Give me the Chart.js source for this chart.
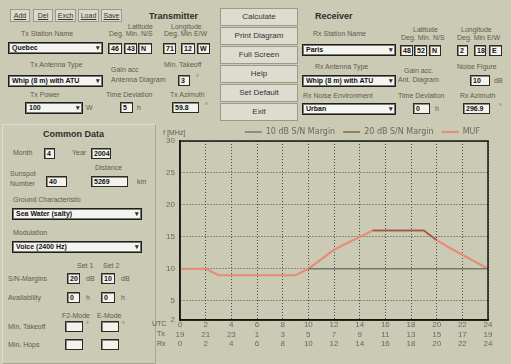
<!DOCTYPE html>
<html>
<head>
<meta charset="utf-8">
<script src="https://cdn.jsdelivr.net/npm/chart.js@4"></script>
<style>
body{margin:0;width:511px;height:364px;background:#cbcab4;font-family:"Liberation Sans",Arial,sans-serif;font-size:7px;color:#5e5d4c;overflow:hidden;position:relative}
.l{position:absolute;white-space:nowrap;line-height:8px}
.h{font-weight:bold;color:#2e2e28;font-size:9px;line-height:10px}
.in{position:absolute;background:#f3f3ec;border:1px solid #2a2a26;box-shadow:inset 1px 1px #8a8a80;font-size:7px;font-weight:bold;color:#111;padding-left:2px;box-sizing:border-box;line-height:9px;overflow:hidden}
.sel{position:absolute;background:#f5f5ef;border:1px solid #1e1e1a;box-shadow:inset 0 0 0 1px #777;font-size:7px;font-weight:bold;color:#111;padding-left:3px;box-sizing:border-box;line-height:9px}
.sel:after{content:"\25BE";position:absolute;right:2px;top:0;font-size:7px;color:#333}
.btn{position:absolute;background:#dedccf;border:1px solid #9a998a;box-sizing:border-box;text-align:center;color:#333;font-size:8px}
.sm{position:absolute;background:#dcdacc;border:1px solid #9a998a;box-sizing:border-box;text-align:center;color:#333;font-size:7px;text-decoration:underline;line-height:11px}
#panel{position:absolute;left:2px;top:124px;width:152px;height:238px;border:1px solid #e0dfcf;border-right-color:#a8a795;border-bottom-color:#a8a795}
#chartBox{position:absolute;left:158px;top:120px;width:353px;height:244px}
</style>
</head>
<body>
<div id="panel"></div>
<div id="ui"></div>
<div id="chartBox"><canvas id="prop"></canvas></div>
<script>
// hours of the day (UTC) and the three curves, MHz
const hours = [0, 1, 2, 3, 4, 5, 6, 7, 8, 9, 10, 11, 12, 13, 14, 15, 16, 17, 18, 19, 20, 21, 22, 23, 24];
const muf = [10, 10, 10, 9, 9, 9, 9, 9, 9, 9, 10, 11.5, 13, 14, 15, 16, 16, 16, 16, 16, 14.5, 13.3, 12.2, 11.1, 10];
const snr10 = [null, null, null, null, null, null, null, null, null, null, 10, 10, 10, 10, 10, 10, 10, 10, 10, 10, 10, 10, 10, 10, 10];
const snr20 = [null, null, null, null, null, null, null, null, null, null, null, null, null, null, null, 16, 16, 16, 16, 16, 14.5, null, null, null, null];

// tick rows under the x axis
const utcTicks = [0, 2, 4, 6, 8, 10, 12, 14, 16, 18, 20, 22, 24];
const txTicks = [19, 21, 23, 1, 3, 5, 7, 9, 11, 13, 15, 17, 19];
const rxTicks = [0, 2, 4, 6, 8, 10, 12, 14, 16, 18, 20, 22, 24];
const yTicks = [2, 5, 10, 15, 20, 25, 30];

// ---- the form around the chart ----
const ui = document.getElementById('ui');
function put(cls, text, x, y, w, h) {
  const d = document.createElement('div');
  d.className = cls;
  d.textContent = text;
  d.style.left = x + 'px';
  d.style.top = y + 'px';
  if (w) d.style.width = w + 'px';
  if (h) { d.style.height = h + 'px'; d.style.lineHeight = (h - 2) + 'px'; }
  ui.appendChild(d);
}

[['Add', 10, 20], ['Del', 33, 20], ['Exch', 55, 21], ['Load', 78, 21], ['Save', 101, 21]]
  .forEach(b => put('sm', b[0], b[1], 9, b[2], 13));
['Calculate', 'Print Diagram', 'Full Screen', 'Help', 'Set Default', 'Exit']
  .forEach((t, i) => put('btn', t, 220, 8 + i * 19, 78, 18));

put('l h', 'Transmitter', 149, 11);
put('l h', 'Receiver', 315, 11);
put('l h', 'Common Data', 43, 129);

const labels = [
  ['Latitude', 128, 23], ['Longitude', 171, 23], ['Deg. Min. N/S', 109, 30], ['Deg. Min E/W', 164, 30],
  ['Tx Station Name', 21, 30], ['Tx Antenna Type', 30, 61], ['Gain acc', 111, 66], ['Antenna Diagram', 111, 76],
  ['Min. Takeoff', 164, 61], ['°', 196, 74], ['Tx Power', 30, 91], ['Time Deviation', 106, 91], ['Tx Azimuth', 170, 91],
  ['W', 86, 104], ['h', 137, 104], ['°', 205, 102],
  ['Latitude', 413, 26], ['Longitude', 461, 26], ['Deg. Min. N/S', 401, 34], ['Deg. Min E/W', 457, 34],
  ['Rx Station Name', 313, 30], ['Rx Antenna Type', 315, 63], ['Gain acc.', 404, 67], ['Ant. Diagram', 398, 76],
  ['Noise Figure', 457, 63], ['dB', 494, 77], ['Rx Noise Environment', 303, 92], ['Time Deviation', 398, 92],
  ['Rx Azimuth', 460, 92], ['h', 435, 105], ['°', 499, 103],
  ['Month', 13, 149], ['Year', 72, 149], ['Distance', 95, 164], ['Sunspot', 10, 170], ['Number', 10, 180], ['km', 137, 178],
  ['Ground Characteristic', 13, 196], ['Modulation', 13, 229], ['Set 1', 77, 262], ['Set 2', 103, 262],
  ['S/N-Margins', 8, 275], ['dB', 86, 275], ['dB', 121, 275], ['Availability', 8, 294], ['h', 86, 294], ['h', 121, 294],
  ['F2-Mode', 62, 312], ['E-Mode', 97, 312], ['Min. Takeoff', 8, 323], ['°', 86, 321], ['°', 122, 321], ['Min. Hops', 8, 341]
];
labels.forEach(a => put('l', a[0], a[1], a[2]));

const inputs = [
  ['46', 108, 43, 14], ['43', 124, 43, 13], ['N', 138, 43, 14], ['71', 163, 43, 13], ['12', 181, 43, 14], ['W', 197, 43, 13],
  ['3', 178, 75, 12], ['5', 120, 102, 13], ['59.8', 172, 102, 27],
  ['48', 400, 45, 13], ['52', 414, 45, 13], ['N', 429, 45, 12], ['2', 457, 45, 11], ['18', 474, 45, 12], ['E', 489, 45, 13],
  ['10', 470, 75, 20], ['0', 413, 103, 17], ['296.9', 463, 103, 27],
  ['4', 44, 148, 11], ['2004', 91, 148, 20], ['40', 46, 176, 21], ['5269', 91, 176, 37],
  ['20', 67, 273, 13], ['10', 101, 273, 14], ['0', 67, 292, 13], ['0', 101, 292, 14],
  ['', 65, 321, 18], ['', 101, 321, 18], ['', 65, 339, 18], ['', 101, 339, 18]
];
inputs.forEach(a => put('in', a[0], a[1], a[2], a[3], a[4] || 11));

const selects = [
  ['Quebec', 8, 42, 95], ['Whip (8 m) with ATU', 8, 75, 95], ['100', 25, 102, 58],
  ['Paris', 302, 44, 94], ['Whip (8 m) with ATU', 302, 75, 94], ['Urban', 302, 103, 94],
  ['Sea Water (salty)', 12, 208, 130], ['Voice  (2400 Hz)', 12, 241, 130]
];
selects.forEach(a => put('sel', a[0], a[1], a[2], a[3], 12));

put('l', 'f [MHz]', 163, 129);
put('l', 'UTC', 152, 320);
put('l', 'Tx', 157, 330);
put('l', 'Rx', 157, 340);

// ---- chart ----
const frame = {
  id: 'frame',
  afterDatasetsDraw(chart) {
    const a = chart.chartArea;
    const c = chart.ctx;
    c.save();
    c.strokeStyle = '#161614';
    c.lineWidth = 1.5;
    c.strokeRect(a.left, a.top, a.right - a.left, a.bottom - a.top);
    c.restore();
  }
};

const pts = arr => hours.map((h, i) => ({ x: h, y: arr[i] }));

new Chart(document.getElementById('prop'), {
  type: 'line',
  data: {
    datasets: [
      { label: '10 dB S/N Margin', data: pts(snr10), borderColor: '#767a6c', borderWidth: 1.5 },
      { label: '20 dB S/N Margin', data: pts(snr20), borderColor: '#8a6048', borderWidth: 1.5 },
      { label: 'MUF', data: pts(muf), borderColor: '#e58c7c', borderWidth: 2.2 }
    ]
  },
  options: {
    responsive: true,
    maintainAspectRatio: false,
    animation: false,
    elements: { point: { radius: 0 }, line: { tension: 0 } },
    layout: { padding: { top: 0, right: 23, left: 0, bottom: 0 } },
    plugins: {
      tooltip: { enabled: false },
      legend: {
        position: 'top',
        align: 'end',
        maxHeight: 21,
        labels: {
          usePointStyle: true,
          pointStyle: 'line',
          pointStyleWidth: 17,
          padding: 8,
          color: '#6a6a5a',
          font: { size: 8, family: 'DejaVu Sans' }
        }
      }
    },
    scales: {
      x: {
        type: 'linear',
        min: 0,
        max: 24,
        afterBuildTicks: s => { s.ticks = utcTicks.map(v => ({ value: v })); },
        afterFit: s => { s.height = 44; },
        grid: { color: '#4a4a44', drawTicks: false },
        border: { color: '#161614', width: 1.5, dash: [1, 2] },
        ticks: {
          autoSkip: false,
          maxRotation: 0,
          padding: 0,
          color: '#6a6a5c',
          font: { size: 8, family: 'Liberation Sans', lineHeight: 1.2 },
          callback: v => {
            const i = utcTicks.indexOf(v);
            return [String(utcTicks[i]), String(txTicks[i]), String(rxTicks[i])];
          }
        }
      },
      y: {
        min: 2,
        max: 30,
        afterBuildTicks: s => { s.ticks = yTicks.map(v => ({ value: v })); },
        afterFit: s => { s.width = 22; s.paddingTop = 0; s.paddingBottom = 0; },
        grid: { color: '#4a4a44', drawTicks: false },
        border: { color: '#161614', width: 1.5, dash: [1, 2] },
        ticks: { padding: 5, color: '#6a6a5c', font: { size: 8, family: 'Liberation Sans' } }
      }
    }
  },
  plugins: [frame]
});
</script>
</body>
</html>
